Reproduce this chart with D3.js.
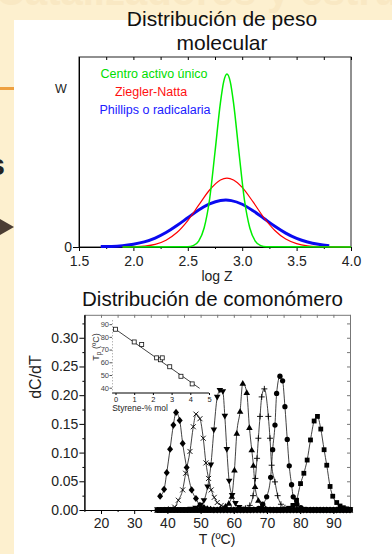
<!DOCTYPE html>
<html>
<head>
<meta charset="utf-8">
<script src="https://cdn.jsdelivr.net/npm/d3@7"></script>
<style>
  body { margin: 0; background: #fdf0cf; }
  svg { display: block; }
  text { font-family: 'Liberation Sans', Arial, sans-serif; }
</style>
</head>
<body>
<script>
// ---- molecular weight distribution (top) ----
const greenLogZ = [1.9, 2.5, 2.55, 2.6, 2.65, 2.7, 2.75, 2.8, 2.83, 2.86, 2.89, 2.92, 2.97, 3.02, 3.07, 3.12, 3.17, 3.22, 4.0]
const greenW = [0, 0.001, 0.007, 0.031, 0.10, 0.25, 0.50, 0.76, 0.87, 0.91, 0.87, 0.76, 0.50, 0.25, 0.10, 0.031, 0.007, 0.001, 0]
const redLogZ = [1.9, 2.0, 2.1, 2.2, 2.3, 2.4, 2.5, 2.6, 2.7, 2.8, 2.86, 2.92, 3.0, 3.1, 3.2, 3.3, 3.4, 3.5, 3.6, 3.7, 3.8, 4.0]
const redW = [0, 0.002, 0.005, 0.014, 0.036, 0.076, 0.139, 0.220, 0.300, 0.353, 0.363, 0.353, 0.314, 0.237, 0.154, 0.087, 0.042, 0.018, 0.006, 0.002, 0.001, 0]
const blueLogZ = [1.7, 1.8, 1.9, 2.0, 2.1, 2.2, 2.3, 2.4, 2.5, 2.6, 2.7, 2.8, 2.85, 2.9, 3.0, 3.1, 3.2, 3.3, 3.4, 3.5, 3.6, 3.7, 3.8]
const blueW = [0.002, 0.003, 0.007, 0.015, 0.027, 0.047, 0.076, 0.113, 0.154, 0.195, 0.227, 0.245, 0.247, 0.244, 0.225, 0.191, 0.150, 0.109, 0.073, 0.045, 0.026, 0.014, 0.007]
const legendNames = ['Centro activo único', 'Ziegler-Natta', 'Phillips o radicalaria']
const logTicks = [1.5, 2.0, 2.5, 3.0, 3.5, 4.0]
const logMinor = [1.75, 2.25, 2.75, 3.25, 3.75]

// ---- comonomer distribution (bottom) ----
const baseTemps = [37, 38, 39, 40, 41, 42, 43, 44, 45, 46, 47, 48, 49, 50, 51, 52, 53, 54, 55, 56, 57, 58, 59, 60, 61, 62, 63, 64, 65, 66,
  67, 68, 69, 70, 71, 72, 73, 74, 75, 76, 77, 78, 79, 80, 81, 82, 83, 84, 85, 86, 87, 88, 89, 90, 91, 92, 93, 94, 95]
const diamondPts = [[37.8, 0.024], [39.0, 0.036], [39.8, 0.065], [40.8, 0.106], [41.8, 0.148], [42.6, 0.170], [43.7, 0.156], [44.6, 0.116],
  [45.8, 0.074], [47.3, 0.035], [48.6, 0.020], [49.8, 0.008], [51, 0.004], [52, 0.002], [53, 0.001]]
const crossPts = [[40, 0.001], [41, 0.002], [42.2, 0.005], [43.3, 0.017], [44.6, 0.035], [45.5, 0.064], [46.8, 0.102], [47.8, 0.145],
  [48.6, 0.167], [49.8, 0.159], [50.8, 0.125], [51.6, 0.082], [52.4, 0.055], [53.2, 0.035], [54.1, 0.022], [55.0, 0.013], [56.2, 0.008],
  [57.4, 0.004], [58.6, 0.002]]
const triDownPts = [[47, 0.001], [48.5, 0.003], [50, 0.008], [51.0, 0.016], [52.1, 0.040], [53.1, 0.078], [54.0, 0.139], [55.0, 0.196],
  [55.8, 0.208], [56.7, 0.206], [57.3, 0.163], [57.9, 0.105], [58.6, 0.050], [59.5, 0.025], [60.5, 0.011], [61.6, 0.004], [62.8, 0.001]]
const triUpPts = [[54, 0.001], [56, 0.003], [57.5, 0.007], [58.5, 0.012], [59.4, 0.024], [60.2, 0.070], [60.9, 0.134], [61.9, 0.172],
  [62.7, 0.221], [63.9, 0.205], [64.7, 0.144], [65.4, 0.105], [65.9, 0.078], [66.4, 0.041], [67.4, 0.017], [68.5, 0.007], [69.6, 0.003], [70.8, 0.001]]
const plusPts = [[62, 0.001], [63.5, 0.003], [64.8, 0.008], [65.8, 0.025], [66.5, 0.055], [67.0, 0.090], [67.4, 0.125], [67.9, 0.163],
  [68.4, 0.197], [69.2, 0.211], [70.4, 0.163], [70.9, 0.125], [71.4, 0.078], [72.4, 0.049], [73.2, 0.025], [74.2, 0.010], [75.4, 0.004], [76.6, 0.001]]
const circlePts = [[66, 0.001], [67.5, 0.003], [68.7, 0.010], [69.9, 0.023], [71.1, 0.057], [71.7, 0.105], [72.4, 0.148], [72.9, 0.203],
  [73.9, 0.233], [74.7, 0.225], [75.4, 0.180], [76.1, 0.123], [76.7, 0.077], [77.4, 0.044], [77.9, 0.023], [79.0, 0.010], [80.2, 0.004], [81.5, 0.001]]
const squarePts = [[75, 0.001], [76.5, 0.003], [77.8, 0.008], [78.9, 0.017], [80.1, 0.046], [81.1, 0.064], [82.1, 0.087], [83.1, 0.122],
  [84.2, 0.155], [85.2, 0.163], [86.2, 0.141], [87.2, 0.105], [88.0, 0.078], [89.0, 0.041], [89.8, 0.024], [91, 0.013], [92, 0.007],
  [93, 0.004], [94, 0.002], [95, 0.001]]
const tempTicks = [20, 30, 40, 50, 60, 70, 80, 90]
const tempMinor = [15, 25, 35, 45, 55, 65, 75, 85, 95]
const dcTicks = [0, 0.05, 0.10, 0.15, 0.20, 0.25, 0.30]
const dcMinor = [0.025, 0.075, 0.125, 0.175, 0.225, 0.275, 0.325]

// ---- inset: peak temperature vs styrene ----
const styrene = [0, 1.0, 1.4, 2.2, 2.4, 2.5, 2.9, 3.5, 4.1]
const tPeak = [86, 76, 74, 63.5, 62, 63.5, 56.5, 49, 43]
const fitLine = [[-0.05, 86.5], [4.5, 39.5]]
const insetXTicks = [0, 1, 2, 3, 4, 5]
const insetYTicks = [40, 50, 60, 70, 80, 90]

const width = 392, height = 554
const svg = d3.select('body').append('svg').attr('width', width).attr('height', height)

// slide background bits
svg.append('rect').attr('width', width).attr('height', height).attr('fill', '#fdf0cf')
svg.append('text').attr('x', -4).attr('y', 5)
    .attr('font-size', 40).attr('font-weight', 'bold').attr('fill', '#f9e8c3')
    .text('Catalizadores y estructura')
svg.append('rect').attr('x', 0).attr('y', 87).attr('width', 14).attr('height', 3).attr('fill', '#eea040')
svg.append('text').attr('x', 5).attr('y', 175).attr('text-anchor', 'end')
    .attr('font-size', 30).attr('font-weight', 'bold').attr('fill', '#222').text('s')
svg.append('path').attr('d', 'M0,219L14,227L0,235Z').attr('fill', '#4b3d33')
svg.append('rect').attr('x', 14).attr('y', 20).attr('width', width - 14).attr('height', height - 20).attr('fill', 'white')

function styleAxis(g, size) {
  g.attr('font-size', size).attr('font-family', null)
  g.selectAll('text').attr('fill', '#222')
}

// ================= top chart =================
const x1 = d3.scaleLinear().domain([1.5, 4.0]).range([79, 351])
const y1 = d3.scaleLinear().domain([0, 1]).range([247, 57])

svg.append('text').attr('x', 222).attr('y', 26).attr('text-anchor', 'middle')
    .attr('font-size', 21).attr('fill', '#111').text('Distribución de peso')
svg.append('text').attr('x', 222).attr('y', 50).attr('text-anchor', 'middle')
    .attr('font-size', 21).attr('fill', '#111').text('molecular')

svg.append('rect').attr('x', 79).attr('y', 57).attr('width', 272).attr('height', 190)
    .attr('fill', 'none').attr('stroke', '#222')

svg.append('g').attr('transform', 'translate(0,57)')
    .call(d3.axisBottom(x1).tickValues(logTicks.concat(logMinor)).tickSize(3).tickSizeOuter(0).tickFormat(''))
    .call(g => g.select('.domain').remove())

svg.append('g').attr('transform', 'translate(0,247)')
    .call(d3.axisBottom(x1).tickValues(logMinor).tickSize(2).tickSizeOuter(0).tickFormat(''))
const ax1 = svg.append('g').attr('transform', 'translate(0,247)')
    .call(d3.axisBottom(x1).tickValues(logTicks).tickSize(4).tickPadding(5).tickSizeOuter(0).tickFormat(d3.format('.1f')))
styleAxis(ax1, 14)
const ay1 = svg.append('g').attr('transform', 'translate(79,0)')
    .call(d3.axisLeft(y1).tickValues([0]).tickSize(6).tickPadding(1).tickSizeOuter(0).tickFormat(d3.format('d')))
styleAxis(ay1, 14)

svg.append('text').attr('x', 217).attr('y', 281).attr('text-anchor', 'middle')
    .attr('font-size', 14).attr('fill', '#222').text('log Z')
svg.append('text').attr('x', 61).attr('y', 93).attr('text-anchor', 'middle')
    .attr('font-size', 12.5).attr('fill', '#222').text('W')

const line1 = d3.line().x(d => x1(d[0])).y(d => y1(d[1])).curve(d3.curveMonotoneX)
const curves = [
  { xs: blueLogZ, ys: blueW, color: '#0a0af0', w: 3 },
  { xs: redLogZ, ys: redW, color: '#ff0000', w: 1.2 },
  { xs: greenLogZ, ys: greenW, color: '#00ee00', w: 1.5 }
]
curves.forEach(c => {
  svg.append('path').datum(d3.zip(c.xs, c.ys))
      .attr('d', line1).attr('fill', 'none').attr('stroke', c.color).attr('stroke-width', c.w)
})

const legendColors = ['#00dd00', '#ff1010', '#2020ff']
svg.selectAll('.legend').data(legendNames).enter().append('text')
    .attr('class', 'legend')
    .attr('x', (d, i) => [154, 151, 155][i])
    .attr('y', (d, i) => 78 + i * 18)
    .attr('text-anchor', 'middle').attr('font-size', 12.5)
    .attr('fill', (d, i) => legendColors[i])
    .text(d => d)

// ================= bottom chart =================
const x2 = d3.scaleLinear().domain([15, 95]).range([84.4, 350])
const y2 = d3.scaleLinear().domain([0, 0.34]).range([510, 314.8])

svg.append('text').attr('x', 212.5).attr('y', 306).attr('text-anchor', 'middle')
    .attr('font-size', 20.5).attr('fill', '#111').text('Distribución de comonómero')

// gray top & right edges with inward ticks
svg.append('g').attr('transform', 'translate(0,314.8)').attr('color', '#777')
    .call(d3.axisBottom(x2).tickValues(tempTicks.concat(tempMinor)).tickSize(3).tickSizeOuter(0).tickFormat(''))
svg.append('g').attr('transform', 'translate(350,0)').attr('color', '#777')
    .call(d3.axisLeft(y2).tickValues(dcTicks.concat(dcMinor)).tickSize(3).tickSizeOuter(0).tickFormat(''))

svg.append('g').attr('transform', 'translate(0,510)')
    .call(d3.axisBottom(x2).tickValues(tempMinor).tickSize(2).tickSizeOuter(0).tickFormat(''))
const ax2 = svg.append('g').attr('transform', 'translate(0,510)')
    .call(d3.axisBottom(x2).tickValues(tempTicks).tickSize(4).tickPadding(4).tickSizeOuter(0))
styleAxis(ax2, 14)
svg.append('g').attr('transform', 'translate(84.4,0)')
    .call(d3.axisLeft(y2).tickValues(dcMinor).tickSize(2).tickSizeOuter(0).tickFormat(''))
const ay2 = svg.append('g').attr('transform', 'translate(84.4,0)')
    .call(d3.axisLeft(y2).tickValues(dcTicks).tickSize(5).tickPadding(1).tickSizeOuter(0).tickFormat(d3.format('.2f')))
styleAxis(ay2, 14)

svg.append('text').attr('transform', 'translate(41,377) rotate(-90)').attr('text-anchor', 'middle')
    .attr('font-size', 16).attr('fill', '#222').text('dC/dT')
svg.append('text').attr('x', 217).attr('y', 544).attr('text-anchor', 'middle')
    .attr('font-size', 14).attr('fill', '#222').text('T (ºC)')

// marker shapes
const shp = {
  diamond: { draw(c) { c.moveTo(0, -3.6); c.lineTo(3, 0); c.lineTo(0, 3.6); c.lineTo(-3, 0); c.closePath() } },
  triDown: { draw(c) { c.moveTo(-3.3, -2.6); c.lineTo(3.3, -2.6); c.lineTo(0, 3); c.closePath() } },
  triUp: { draw(c) { c.moveTo(-3.3, 2.6); c.lineTo(3.3, 2.6); c.lineTo(0, -3); c.closePath() } },
  square: { draw(c) { c.moveTo(-2.4, -2.4); c.lineTo(2.4, -2.4); c.lineTo(2.4, 2.4); c.lineTo(-2.4, 2.4); c.closePath() } },
  cross: { draw(c) { c.moveTo(-2.5, -2.5); c.lineTo(2.5, 2.5); c.moveTo(-2.5, 2.5); c.lineTo(2.5, -2.5) } },
  plus: { draw(c) { c.moveTo(-3, 0); c.lineTo(3, 0); c.moveTo(0, -3); c.lineTo(0, 3) } },
  circle: d3.symbolCircle
}
const series = [
  { pts: diamondPts, type: 'diamond', fill: true },
  { pts: crossPts, type: 'cross', fill: false },
  { pts: triDownPts, type: 'triDown', fill: true },
  { pts: triUpPts, type: 'triUp', fill: true },
  { pts: plusPts, type: 'plus', fill: false },
  { pts: circlePts, type: 'circle', fill: true },
  { pts: squarePts, type: 'square', fill: true }
]

function withBaseline(pts) {
  const t0 = pts[0][0], t1 = pts[pts.length - 1][0]
  const zeros = baseTemps.filter(t => t <= t0 - 1 || t >= t1 + 1).map(t => [t, 0])
  return zeros.concat(pts).sort((a, b) => a[0] - b[0])
}

const line2 = d3.line().x(d => x2(d[0])).y(d => y2(d[1])).curve(d3.curveMonotoneX)
series.forEach(s => {
  const data = withBaseline(s.pts)
  svg.append('path').datum(data).attr('d', line2)
      .attr('fill', 'none').attr('stroke', '#111').attr('stroke-width', 0.8)
  const sym = d3.symbol().type(shp[s.type]).size(22)
  svg.append('g').selectAll('path').data(data).enter().append('path')
      .attr('transform', d => 'translate(' + x2(d[0]) + ',' + y2(d[1]) + ')')
      .attr('d', sym)
      .attr('fill', s.fill ? '#000' : 'none')
      .attr('stroke', s.fill ? 'none' : '#000')
      .attr('stroke-width', 0.9)
})

// ---- inset ----
const xi = d3.scaleLinear().domain([0, 5]).range([115.5, 209])
const yi = d3.scaleLinear().domain([36, 95]).range([392.8, 317.8])

const axi = svg.append('g').attr('transform', 'translate(0,393)')
    .call(d3.axisBottom(xi).tickValues(insetXTicks).tickSize(2).tickPadding(1.5).tickSizeOuter(0).tickFormat(d3.format('d')))
axi.select('.domain').attr('d', 'M112,0H209')
styleAxis(axi, 7.5)
const ayi = svg.append('g').attr('transform', 'translate(112,0)')
    .call(d3.axisLeft(yi).tickValues(insetYTicks).tickSize(2.5).tickPadding(0.5).tickSizeOuter(0))
ayi.select('.domain').attr('stroke', '#999').attr('stroke-dasharray', '1,2')
ayi.selectAll('.tick line').attr('stroke', '#555')
styleAxis(ayi, 7.5)
ayi.selectAll('text').attr('fill', '#444')

svg.append('text').attr('transform', 'translate(99,347) rotate(-90)').attr('text-anchor', 'middle')
    .attr('font-size', 9).attr('fill', '#333')
    .call(t => {
      t.append('tspan').text('T')
      t.append('tspan').attr('font-size', 6.5).attr('dy', 2).text('p')
      t.append('tspan').attr('dy', -2).text(' (ºC)')
    })
svg.append('text').attr('x', 140).attr('y', 411).attr('text-anchor', 'middle')
    .attr('font-size', 8.5).attr('fill', '#222').text('Styrene-% mol')

svg.append('path').datum(fitLine)
    .attr('d', d3.line().x(d => xi(d[0])).y(d => yi(d[1])))
    .attr('stroke', '#111').attr('stroke-width', 0.8)
svg.append('g').selectAll('rect').data(d3.zip(styrene, tPeak)).enter().append('rect')
    .attr('x', d => xi(d[0]) - 2).attr('y', d => yi(d[1]) - 2)
    .attr('width', 4).attr('height', 4)
    .attr('fill', 'white').attr('stroke', '#111').attr('stroke-width', 0.8)
</script>
</body>
</html>
